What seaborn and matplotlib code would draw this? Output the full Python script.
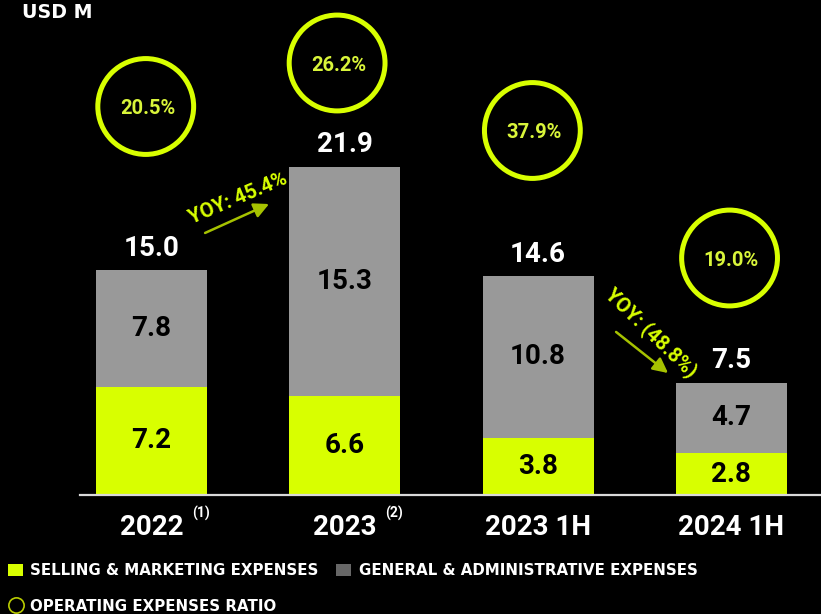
import matplotlib
matplotlib.use("Agg")
import matplotlib.pyplot as plt
from matplotlib.patches import Patch
from matplotlib.lines import Line2D
import seaborn as sns
import pandas as pd

# ---- data (USD M) ----
periods = ["2022", "2023", "2023 1H", "2024 1H"]
period_notes = ["(1)", "(2)", "", ""]
selling_marketing = [7.2, 6.6, 3.8, 2.8]
general_admin = [7.8, 15.3, 10.8, 4.7]
opex_ratio = [20.5, 26.2, 37.9, 19.0]
yoy_labels = ["YOY: 45.4%", "YOY: (48.8%)"]

totals = [round(s + g, 1) for s, g in zip(selling_marketing, general_admin)]

# ---- styling ----
LIME = "#D8FF00"
LIME_TEXT = "#D9F53A"
ARROW = "#A6C200"
GREY = "#999999"
GREY_KEY = "#676767"
BG = "#000000"
WIDE = ["DejaVu Sans"]

sns.set_style("dark", {"axes.facecolor": BG, "figure.facecolor": BG})
plt.rcParams["font.family"] = ["Roboto", "DejaVu Sans"]
plt.rcParams["font.weight"] = "bold"

fig = plt.figure(figsize=(8.21, 6.14), dpi=100)
fig.patch.set_facecolor(BG)
ax = fig.add_axes([80 / 821, 119 / 614, 741 / 821, 495 / 614])
ax.set_facecolor(BG)

df = pd.DataFrame({"period": periods, "total": totals, "sm": selling_marketing})

# stacked bars: full total in grey, selling & marketing drawn over the base
sns.barplot(data=df, x="period", y="total", order=periods, color=GREY,
            saturation=1, width=0.574, linewidth=0, errorbar=None, ax=ax)
sns.barplot(data=df, x="period", y="sm", order=periods, color=LIME,
            saturation=1, width=0.574, linewidth=0, errorbar=None, ax=ax)

ax.set_xlim(-0.37, 3.463)
ax.set_ylim(0, 33)
ax.set_xlabel("")
ax.set_ylabel("")
ax.set_yticks([])
ax.grid(False)
for side in ("top", "right", "left"):
    ax.spines[side].set_visible(False)
ax.spines["bottom"].set_visible(True)
ax.spines["bottom"].set_color("#D9D9D9")
ax.spines["bottom"].set_linewidth(1.6)
ax.tick_params(axis="x", length=0, pad=14, labelsize=20, labelcolor="white")
for lab in ax.get_xticklabels():
    lab.set_fontweight("bold")

# superscript notes next to the period labels
for i, note in enumerate(period_notes):
    if note:
        ax.text(i + 0.255, -1.25, note, color="white", fontsize=10,
                fontweight="bold", ha="center", va="center", clip_on=False)

# segment and total value labels
for i, (s, g, t) in enumerate(zip(selling_marketing, general_admin, totals)):
    ax.text(i, s / 2, f"{s:.1f}", color="black", fontsize=20,
            fontweight="bold", ha="center", va="center")
    ax.text(i, s + g / 2, f"{g:.1f}", color="black", fontsize=20,
            fontweight="bold", ha="center", va="center")
    ax.text(i, t + 1.45, f"{t:.1f}", color="white", fontsize=20,
            fontweight="bold", ha="center", va="center")

# operating-expense ratio rings floating above the bars
ring_x = [-0.03, -0.04, -0.03, -0.01]
ring_y = [25.9, 28.8, 24.3, 15.8]
ax.scatter([i + dx for i, dx in enumerate(ring_x)], ring_y, s=69 ** 2,
           facecolors="none", edgecolors=LIME, linewidths=3.6, zorder=3,
           clip_on=False)
for i, (dx, y, r) in enumerate(zip(ring_x, ring_y, opex_ratio)):
    ax.text(i + dx + 0.01, y - 0.15, f"{r:.1f}%", color=LIME_TEXT,
            fontsize=14.5, fontweight="bold", ha="center", va="center",
            zorder=4)

# year-over-year arrows
ax.annotate("", xy=(0.608, 19.4), xytext=(0.277, 17.47),
            arrowprops=dict(arrowstyle="-|>,head_length=0.9,head_width=0.45",
                            color=ARROW, lw=1.8, shrinkA=0, shrinkB=0))
ax.text(0.447, 19.8, yoy_labels[0], color=LIME, fontsize=14.5,
        fontweight="bold", rotation=23, rotation_mode="anchor",
        ha="center", va="center")
ax.annotate("", xy=(2.672, 8.13), xytext=(2.403, 10.87),
            arrowprops=dict(arrowstyle="-|>,head_length=0.9,head_width=0.45",
                            color=ARROW, lw=1.8, shrinkA=0, shrinkB=0))
ax.text(2.585, 10.8, yoy_labels[1], color=LIME, fontsize=14.5,
        fontweight="bold", rotation=-44, rotation_mode="anchor",
        ha="center", va="center")

# unit caption
fig.text(22 / 821, 1 - 13 / 614, "USD M", color="white", fontsize=13.7,
         fontweight="bold", family=WIDE, ha="left", va="center")

# legend: two keys on the first row, ratio key below
handles = [
    Patch(facecolor=LIME, edgecolor="none", label="SELLING & MARKETING EXPENSES"),
    Line2D([], [], marker="o", linestyle="none", markersize=11,
           markerfacecolor="none", markeredgecolor="#B9CC00",
           markeredgewidth=1.2, label="OPERATING EXPENSES RATIO"),
    Patch(facecolor=GREY_KEY, edgecolor="none", label="GENERAL & ADMINISTRATIVE EXPENSES"),
]
leg = fig.legend(handles=handles, loc="upper left", ncol=2,
                 bbox_to_anchor=(8 / 821, 1 - 563 / 614), frameon=False,
                 prop={"family": WIDE, "weight": "bold", "size": 10.8},
                 labelcolor="white", handlelength=1.0, handleheight=0.85,
                 handletextpad=0.5, columnspacing=1.15, labelspacing=1.4,
                 borderpad=0, borderaxespad=0)

fig.savefig("out.png", dpi=100, facecolor=BG)
